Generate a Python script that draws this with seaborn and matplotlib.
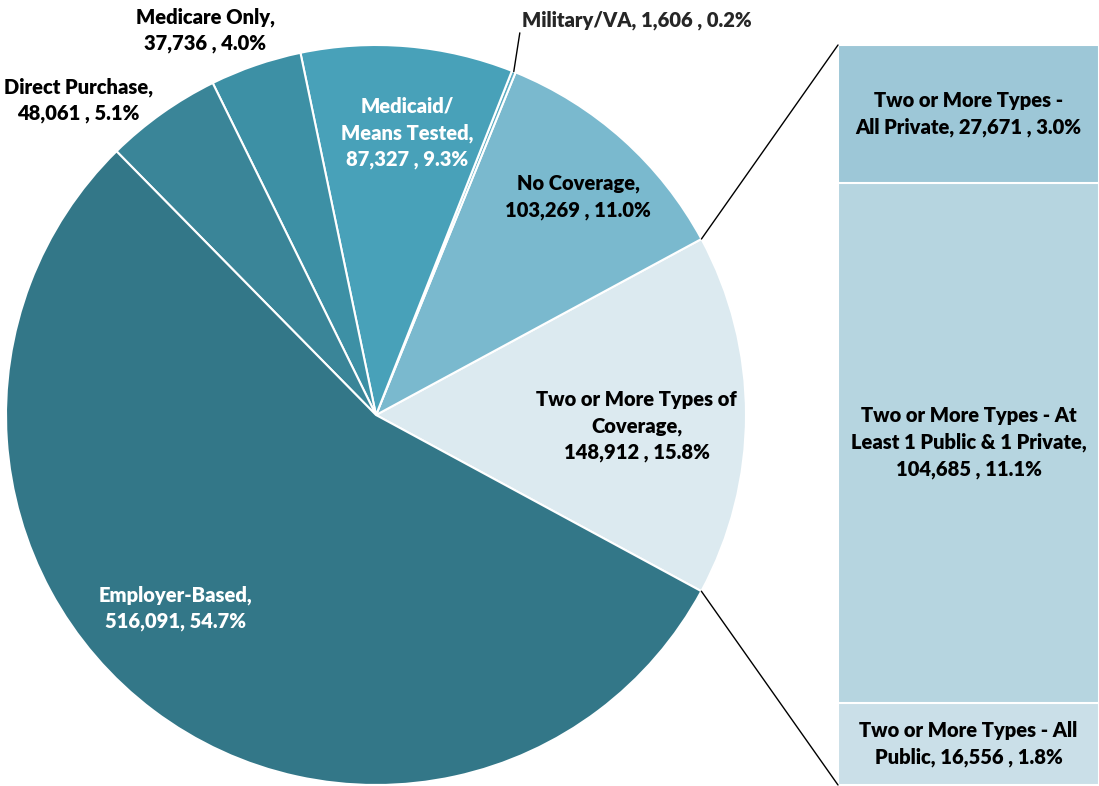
import numpy as np
import seaborn as sns
import matplotlib.pyplot as plt
from matplotlib.patches import ConnectionPatch

# pie data, counter-clockwise starting from the split-out slice
categories = ["Two or More Types of\nCoverage", "No Coverage", "Military/VA", "Medicaid/\nMeans Tested",
              "Medicare Only", "Direct Purchase", "Employer-Based"]
counts = [148912, 103269, 1606, 87327, 37736, 48061, 516091]
shares = [15.8, 11.0, 0.2, 9.3, 4.0, 5.1, 54.7]
pie_colors = ["#dceaf0", "#7ab9ce", "#5aabc2", "#48a1b9", "#3d90a5", "#3a8598", "#337788"]

# breakdown of "two or more", bottom to top
sub_categories = ["Two or More Types - All\nPublic", "Two or More Types - At\nLeast 1 Public & 1 Private",
                  "Two or More Types -\nAll Private"]
sub_counts = [16556, 104685, 27671]
sub_shares = [1.8, 11.1, 3.0]
bar_colors = ["#cadfe8", "#b6d5e0", "#9dc7d7"]

sns.set_theme(style="white")
plt.rcParams['font.family'] = ['Lato', 'DejaVu Sans']

fig = plt.figure(figsize=(10.99, 7.86), dpi=100)
ax = fig.add_axes([6 / 1099, 1 / 786, 740 / 1099, 740 / 786])
bax = fig.add_axes([838 / 1099, 1 / 786, 261 / 1099, 740 / 786])

start = -shares[0] / 100 * 360 / 2
wedges, _ = ax.pie(counts, colors=pie_colors, startangle=start, counterclock=True,
                   wedgeprops=dict(edgecolor="white", linewidth=1.5), radius=1)
ax.set_xlim(-1, 1)
ax.set_ylim(-1, 1)
ax.set_aspect("equal")
ax.axis("off")

fs = 14.5
fw = "heavy"
ls = 1.45
# label positions in pie units
label_pos = [(0.705, -0.03), (0.546, 0.589), None, (0.084, 0.762), (-0.462, 1.04), (-0.805, 0.851), (-0.543, -0.522)]
label_col = ["#000000", "#000000", "#000000", "#ffffff", "#000000", "#000000", "#ffffff"]
for i, (cat, n, s) in enumerate(zip(categories, counts, shares)):
    if label_pos[i] is None:
        continue
    if i == 6:
        txt = f"{cat},\n{n:,}, {s:.1f}%"
    else:
        txt = f"{cat},\n{n:,} , {s:.1f}%"
    ax.text(*label_pos[i], txt, ha="center", va="center", fontsize=fs, fontweight=fw,
            color=label_col[i], linespacing=ls)

# military leader
w = wedges[2]
mid = np.deg2rad((w.theta1 + w.theta2) / 2)
ax.annotate(f"{categories[2]}, {counts[2]:,} , {shares[2]:.1f}%", xy=(np.cos(mid), np.sin(mid)),
            xytext=(0.395, 1.068), ha="left", va="center", fontsize=fs, fontweight=fw,
            arrowprops=dict(arrowstyle="-", color="black", lw=1, shrinkA=0, shrinkB=0, relpos=(0, 0.6)),
            annotation_clip=False)

# stacked bar via overlaid cumulative bars
cum = np.cumsum(sub_counts)
for k in range(len(sub_counts) - 1, -1, -1):
    sns.barplot(x=["Two or More"], y=[cum[k]], color=bar_colors[k], saturation=1, width=1,
                edgecolor="white", linewidth=1.5, ax=bax)
bax.set_xlim(-0.5, 0.5)
bax.set_ylim(0, cum[-1])
bax.axis("off")
sep = [", ", ",\n", ", "]
for k in range(len(sub_counts)):
    y = cum[k] - sub_counts[k] / 2
    bax.text(0, y, f"{sub_categories[k]}{sep[k]}{sub_counts[k]:,} , {sub_shares[k]:.1f}%", ha="center",
             va="center", fontsize=fs, fontweight=fw, color="black", linespacing=ls)

# connector lines
w = wedges[0]
for ang, yb in [(w.theta2, 1), (w.theta1, 0)]:
    a = np.deg2rad(ang)
    con = ConnectionPatch(xyA=(np.cos(a), np.sin(a)), coordsA=ax.transData,
                          xyB=(0, yb), coordsB=bax.transAxes, color="black", lw=1)
    fig.add_artist(con)

fig.savefig("out.png", dpi=100)
